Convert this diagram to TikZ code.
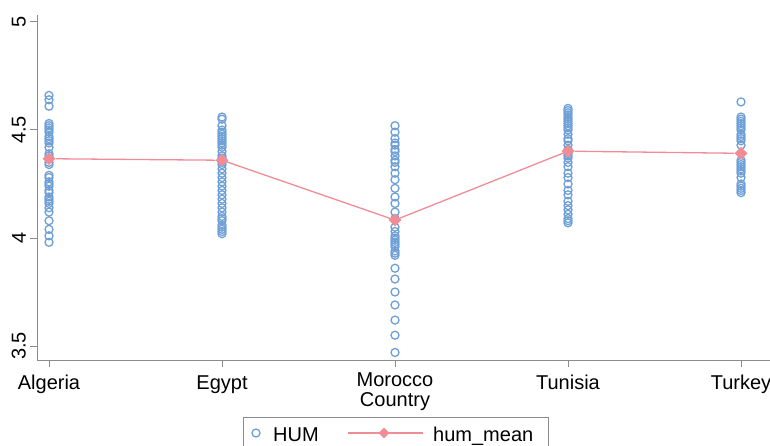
\documentclass[tikz,border=0pt]{standalone}
\usepackage{fontspec}
\setmainfont{Liberation Sans}
\usetikzlibrary{shapes.geometric}
\definecolor{axisgray}{RGB}{140,140,140}
\definecolor{humblue}{RGB}{110,160,215}
\definecolor{meanred}{RGB}{240,140,150}
\tikzset{
  humpt/.style={draw=humblue,line width=1.3pt},
  meanpt/.style={diamond,aspect=1,fill=meanred,inner sep=0pt,minimum size=13pt},
  meanline/.style={draw=meanred,line width=1.3pt},
  ticklbl/.style={font=\fontsize{20}{20}\selectfont,inner sep=0pt},
}
\begin{document}
\begin{tikzpicture}[x=1pt,y=1pt]
	\useasboundingbox (0,0) rectangle (770,445);
	% axis
	\draw[axisgray,line width=1pt] (37,430)--(37,85)--(770,85);
	\foreach \v/\y/\n in {5/423/a,4.5/315/b,4/207/c,3.5/99/d}{
		\draw[axisgray,line width=1pt] (30,\y)--(37,\y);
		\node[ticklbl,rotate=90,anchor=south] (ylab\n) at (26,\y) {\v};
	}
	\foreach \c/\x in {Algeria/49,Egypt/222,Tunisia/568,Turkey/741}{
		\draw[axisgray,line width=1pt] (\x,85)--(\x,78);
		\node[ticklbl,anchor=base] (\c) at (\x,56) {\c};
	}
	\draw[axisgray,line width=1pt] (395,85)--(395,78);
	\node[ticklbl,align=center,anchor=north] (Morocco) at (395,72) {Morocco\\Country};

	% scores and means
	\begin{scope}[x=173pt,y=216pt,xshift=-124pt,yshift=-657pt]
		\foreach \v in {4.66,4.64,4.61,4.53,4.52,4.51,4.50,4.49,4.47,4.46,4.45,4.44,4.42,4.39,4.38,4.37,4.35,4.34,4.29,4.28,4.26,4.25,4.24,4.22,4.21,4.19,4.18,4.17,4.16,4.14,4.12,4.08,4.04,4.01,3.98}
			\draw[humpt] (1,\v) circle[radius=4pt];
		\foreach \v in {4.56,4.55,4.52,4.50,4.49,4.48,4.47,4.46,4.45,4.44,4.43,4.42,4.40,4.38,4.37,4.35,4.34,4.32,4.30,4.28,4.26,4.24,4.22,4.20,4.18,4.16,4.14,4.12,4.10,4.09,4.08,4.06,4.05,4.04,4.03,4.02}
			\draw[humpt] (2,\v) circle[radius=4pt];
		\foreach \v in {4.52,4.49,4.46,4.44,4.43,4.41,4.40,4.38,4.36,4.35,4.33,4.30,4.27,4.23,4.19,4.16,4.12,4.09,4.05,4.03,4.01,4.00,3.99,3.98,3.97,3.96,3.94,3.93,3.92,3.86,3.81,3.75,3.69,3.62,3.55,3.47}
			\draw[humpt] (3,\v) circle[radius=4pt];
		\foreach \v in {4.60,4.59,4.58,4.57,4.56,4.55,4.54,4.53,4.52,4.51,4.50,4.48,4.46,4.45,4.43,4.41,4.40,4.39,4.38,4.37,4.35,4.33,4.30,4.28,4.25,4.22,4.20,4.17,4.15,4.13,4.11,4.09,4.08,4.07}
			\draw[humpt] (4,\v) circle[radius=4pt];
		\foreach \v in {4.63,4.56,4.55,4.54,4.53,4.52,4.51,4.50,4.48,4.47,4.46,4.45,4.43,4.36,4.35,4.34,4.33,4.32,4.31,4.30,4.28,4.25,4.24,4.23,4.22,4.21}
			\draw[humpt] (5,\v) circle[radius=4pt];

		\node[meanpt] (m1) at (1,4.367) {};
		\node[meanpt] (m2) at (2,4.360) {};
		\node[meanpt] (m3) at (3,4.083) {};
		\node[meanpt] (m4) at (4,4.402) {};
		\node[meanpt] (m5) at (5,4.392) {};
		\draw[meanline] (m1)--(m2)--(m3)--(m4)--(m5);
	\end{scope}

	% legend
	\draw[axisgray,line width=0.8pt] (243,28) rectangle (548,-5);
	\node[circle,humpt,minimum size=8pt,inner sep=0pt] (keyhum) at (256,12) {};
	\node[ticklbl,anchor=base west] (lblhum) at (273,4) {HUM};
	\coordinate (keyl) at (348,12);
	\coordinate (keyr) at (423,12);
	\draw[meanline] (keyl)--(keyr);
	\node[meanpt,minimum size=11pt] (keymean) at (384,12) {};
	\node[ticklbl,anchor=base west] (lblmean) at (433,4) {hum\_mean};
\end{tikzpicture}
\end{document}
